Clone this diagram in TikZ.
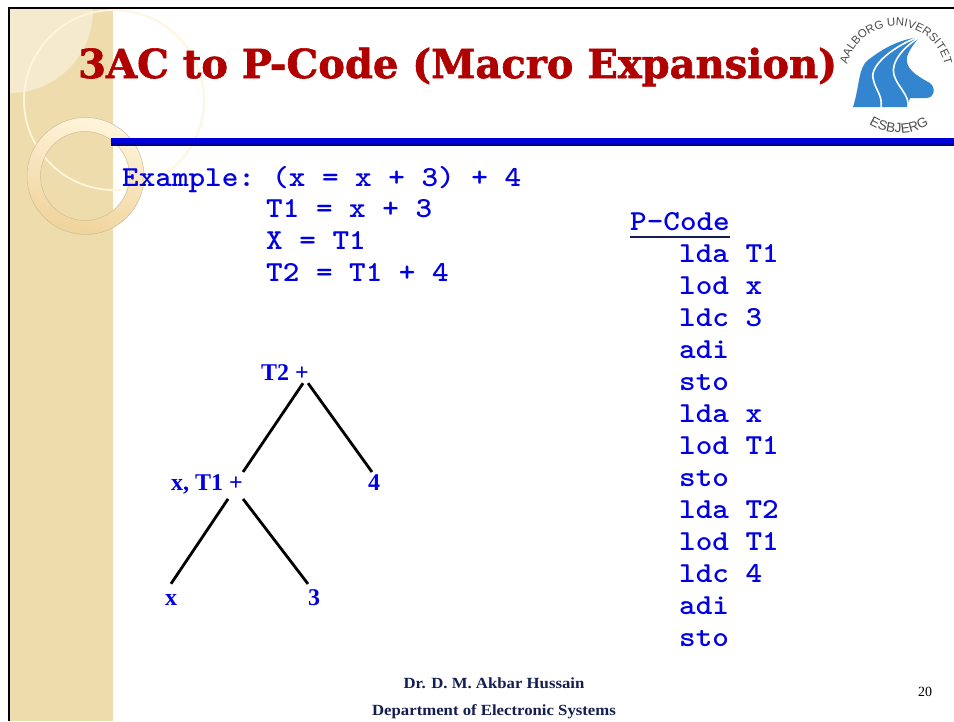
\documentclass[tikz,border=0pt]{standalone}
\usepackage{xcolor}
\usepackage{fontspec}
\usepackage{tikz}
\usetikzlibrary{arrows.meta, positioning, calc, decorations.text}
\setmainfont{Liberation Serif}
\setsansfont{Liberation Sans}
\newfontfamily\slabfont[BoldFeatures={FakeBold=1.5}]{DejaVu Serif}
\definecolor{SlideBlue}{RGB}{0, 0, 225}
\definecolor{BarBlue}{RGB}{0, 0, 220}
\definecolor{TitleRed}{RGB}{176, 0, 0}
\definecolor{BandTan}{RGB}{238, 220, 172}
\definecolor{BandLight}{RGB}{245, 234, 205}
\definecolor{RingEdge}{RGB}{205, 190, 150}
\definecolor{ThinRing}{RGB}{255, 245, 220}
\definecolor{LogoBlue}{RGB}{52, 133, 207}
\definecolor{FootNavy}{RGB}{20, 30, 80}

\begin{document}
\begin{tikzpicture}[
  x=1pt, y=-1pt,
  code/.style={anchor=base west, inner sep=0pt, text=SlideBlue, transform shape, xscale=1.09,
               font=\ttfamily\bfseries\fontsize{29}{32}\selectfont},
  lab/.style={anchor=base, inner sep=0pt, text=SlideBlue,
              font=\bfseries\fontsize{24}{28}\selectfont},
  foot/.style={anchor=base, inner sep=0pt, text=FootNavy, transform shape, xscale=1.08,
               font=\bfseries\fontsize{15.5}{18}\selectfont},
  logotxt/.style={decorate, decoration={text along path, text align=center, text={#1}}},
  eg/.style={-, line width=2.8pt, color=black}
]
  \useasboundingbox (0,0) rectangle (954,721);
  \fill[white] (0,0) rectangle (954,721);

  % ---- side band ----
  \fill[BandTan] (10,9) rectangle (113,721);
  \begin{scope}
    \clip (10,9) rectangle (113,721);
    \fill[BandLight] (10,10) circle (83);
  \end{scope}
  \draw[ThinRing, line width=1.8pt] (114,100) circle (90);
  \path[even odd rule, draw=RingEdge, line width=0.5pt,
        top color=ThinRing, bottom color=BandTan!90!orange, shading angle=-15]
    (85.5,176) circle (58.5) (85,176) circle (44.5);
  \draw[black, line width=2.5pt] (9,721) -- (9,8) -- (954,8);

  % ---- title ----
  \node[anchor=base west, inner sep=0pt, text=TitleRed,
        font=\slabfont\bfseries\fontsize{40}{48}\selectfont] (title) at (78,78)
    {3AC to P-Code (Macro Expansion)};
  \fill[BarBlue] (111,138) rectangle (954,143);
  \fill[BarBlue!65!black] (111,143) rectangle (954,146);

  % ---- logo ----
  \fill[LogoBlue] (920,37) .. controls (893,40) and (875,55) .. (868,60)
    .. controls (858,68) and (860,85) .. (853,107) -- (907,107) -- (910,98) -- (926,98)
    .. controls (935,98) and (936,88) .. (930,83)
    .. controls (915,75) and (905,68) .. (907,57)
    .. controls (909,50) and (915,42) .. (920,37) -- cycle;
  \draw[white, line width=1.6pt] (921,36) .. controls (895,45) and (870,65) .. (873,78)
    .. controls (875,90) and (883,95) .. (881,108);
  \draw[white, line width=1.6pt] (922,36) .. controls (905,45) and (890,62) .. (894,75)
    .. controls (898,88) and (910,95) .. (908,108);
  \path[logotxt={|\sffamily\color{black!70}\fontsize{11.5}{14}\selectfont|AALBORG UNIVERSITET}]
    (896,76) ++(180:50) arc (180:360:50);
  \path[logotxt={|\sffamily\color{black!70}\fontsize{13.5}{15}\selectfont|ESBJERG}]
    (899,76) ++(150:57) arc (150:30:57);

  % ---- three address code ----
  \node[code] (ex)  at (122,186) {Example:};
  \node[code] (src) at (272,186) {(x = x + 3) + 4};
  \node[code] (c1)  at (266,217) {T1 = x + 3};
  \node[code] (c2)  at (266,249) {X = T1};
  \node[code] (c3)  at (266,281) {T2 = T1 + 4};

  % ---- tree ----
  \node[lab] (t2)  at (285,380)   {T2 +};
  \node[lab] (xt1) at (207,490)   {x, T1 +};
  \node[lab] (n4)  at (374,490)   {4};
  \node[lab] (nx)  at (171,605)   {x};
  \node[lab] (n3)  at (314,605)   {3};
  \draw[eg] ([shift={(-6,3)}]t2.south east) -- ([shift={(0,-2)}]xt1.north east);
  \draw[eg] ([shift={(-1,3)}]t2.south east) -- ([shift={(-2,-2)}]n4.north);
  \draw[eg] ([shift={(-15,5)}]xt1.south east) -- ([shift={(0,-10)}]nx.north);
  \draw[eg] ([shift={(0,5)}]xt1.south east) -- ([shift={(-6,-5)}]n3.north);

  % ---- p-code ----
  \node[code] (ph) at (630,230) {P-Code};
  \draw[line width=2pt, color=FootNavy] ($(ph.south west)+(0,6)$) coordinate (ula) -- ($(ph.south east)+(0,6)$) coordinate (ulb);
  \node[code] (p1)  at (679,262) {lda T1};
  \node[code] (p2)  at (679,294) {lod x};
  \node[code] (p3)  at (679,326) {ldc 3};
  \node[code] (p4)  at (679,358) {adi};
  \node[code] (p5)  at (679,390) {sto};
  \node[code] (p6)  at (679,422) {lda x};
  \node[code] (p7)  at (679,454) {lod T1};
  \node[code] (p8)  at (679,486) {sto};
  \node[code] (p9)  at (679,518) {lda T2};
  \node[code] (p10) at (679,550) {lod T1};
  \node[code] (p11) at (679,582) {ldc 4};
  \node[code] (p12) at (679,614) {adi};
  \node[code] (p13) at (679,646) {sto};

  % ---- footer ----
  \node[foot] (f1) at (494,688) {Dr. D. M. Akbar Hussain};
  \node[foot] (f2) at (494,715) {Department of Electronic Systems};
  \node[anchor=base, inner sep=0pt, font=\fontsize{14}{16}\selectfont] (pg) at (925,696) {20};
\end{tikzpicture}
\end{document}
